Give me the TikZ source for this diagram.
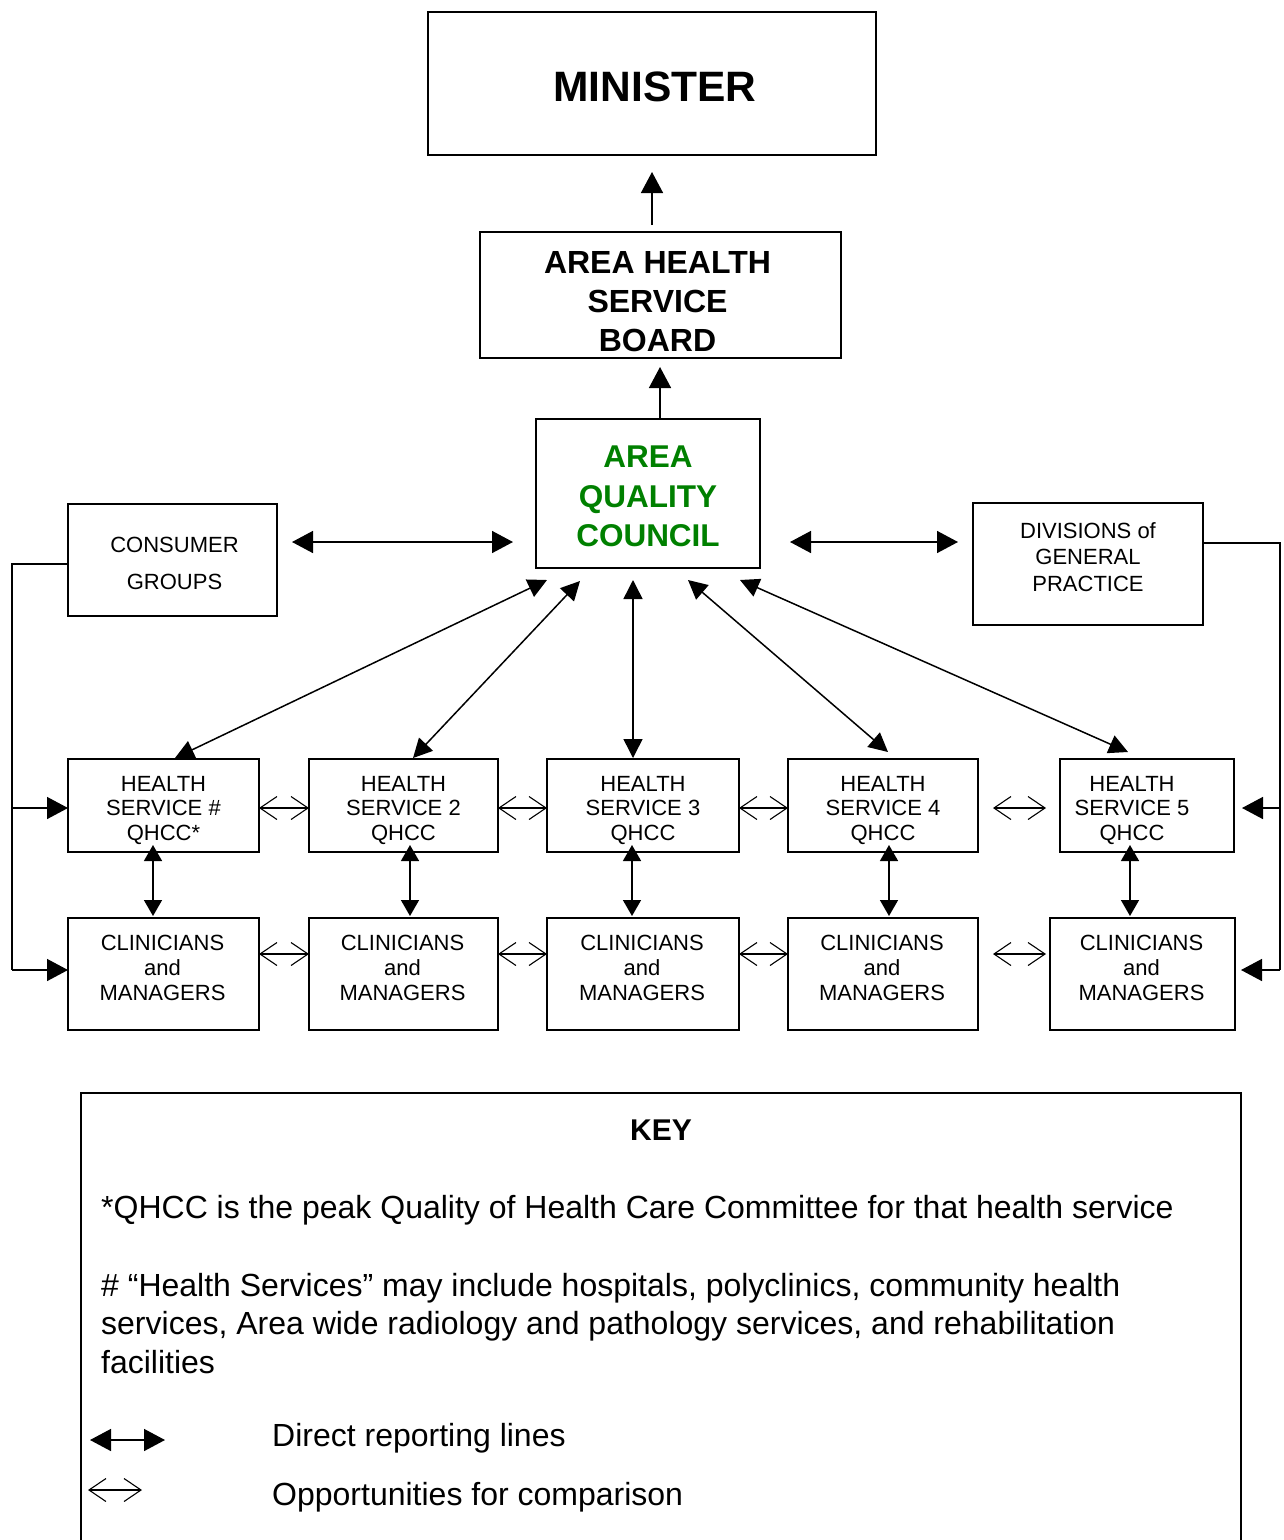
\documentclass[tikz,border=0pt]{standalone}
\usepackage{fontspec}
\setmainfont{Liberation Sans}
\usetikzlibrary{arrows.meta}
\definecolor{aqcgreen}{RGB}{0,128,0}
\begin{document}
\begin{tikzpicture}[x=1pt,y=-1pt,
  bigtri/.tip={Triangle[length=21pt,width=22pt]},
  midtri/.tip={Triangle[length=19pt,width=19pt]},
  smalltri/.tip={Triangle[length=16pt,width=18pt]},
  barb/.tip={Straight Barb[length=17pt,width=23pt]},
  box/.style={draw, line width=1.6pt, inner sep=0pt, outer sep=0pt},
  lbl/.style={inner sep=0pt, align=center},
  hsfont/.style={lbl, font=\fontsize{22pt}{24.5pt}\selectfont},
  cmfont/.style={lbl, font=\fontsize{22pt}{25pt}\selectfont},
  wire/.style={line width=1.5pt},
  dbig/.style={line width=1.5pt, bigtri-bigtri},
  dmid/.style={line width=1.5pt, midtri-midtri},
  dsmall/.style={line width=1.5pt, smalltri-smalltri},
  tobig/.style={line width=1.5pt, -bigtri},
  cmp/.style={line width=1.1pt, barb-barb},
  keytext/.style={anchor=base west, inner sep=0pt, font=\fontsize{32pt}{38pt}\selectfont}
]
\path[use as bounding box] (0,0) rectangle (1284,1540);

% top boxes
\node[box, minimum width=448pt, minimum height=143pt] (min) at (652,83.5) {};
\node[lbl, font=\fontsize{42.5pt}{45pt}\selectfont\bfseries] (mint) at ([xshift=3pt,yshift=-3pt]min.center) {MINISTER};
\node[box, minimum width=361pt, minimum height=126pt] (ahsb) at (660.5,295) {};
\node[lbl, font=\fontsize{32pt}{39pt}\selectfont\bfseries] (ahsbt) at ([xshift=-3pt,yshift=-7pt]ahsb.center) {AREA HEALTH\\SERVICE\\BOARD};
\node[box, minimum width=224pt, minimum height=149pt] (aqc) at (648,493.5) {};
\node[lbl, text=aqcgreen, font=\fontsize{31.5pt}{39.5pt}\selectfont\bfseries] (aqct) at ([yshift=-3pt]aqc.center) {AREA\\QUALITY\\COUNCIL};
\node[box, minimum width=209pt, minimum height=112pt] (cons) at (172.5,560) {};
\node[lbl, font=\fontsize{22pt}{37pt}\selectfont] (const) at ([xshift=2pt,yshift=-3pt]cons.center) {CONSUMER\\GROUPS};
\node[box, minimum width=230pt, minimum height=122pt] (div) at (1088,564) {};
\node[lbl, font=\fontsize{22pt}{26.5pt}\selectfont] (divt) at ([yshift=7pt]div.center) {DIVISIONS of\\GENERAL\\PRACTICE};

% health services
\node[box, minimum width=191pt, minimum height=93pt] (hs1) at (163.5,805.5) {};
\node[box, minimum width=189pt, minimum height=93pt] (hs2) at (403.5,805.5) {};
\node[box, minimum width=192pt, minimum height=93pt] (hs3) at (643,805.5) {};
\node[box, minimum width=190pt, minimum height=93pt] (hs4) at (883,805.5) {};
\node[box, minimum width=174pt, minimum height=93pt] (hs5) at (1147,805.5) {};
\node[hsfont] (hs1t) at ([yshift=-4.5pt]hs1.center) {HEALTH\\SERVICE \#\\QHCC*};
\node[hsfont] (hs2t) at ([yshift=-4.5pt]hs2.center) {HEALTH\\SERVICE 2\\QHCC};
\node[hsfont] (hs3t) at ([yshift=-4.5pt]hs3.center) {HEALTH\\SERVICE 3\\QHCC};
\node[hsfont] (hs4t) at ([yshift=-4.5pt]hs4.center) {HEALTH\\SERVICE 4\\QHCC};
\node[hsfont] (hs5t) at ([xshift=-15pt,yshift=-4.5pt]hs5.center) {HEALTH\\SERVICE 5\\QHCC};

% clinicians
\node[box, minimum width=191pt, minimum height=112pt] (cm1) at (163.5,974) {};
\node[box, minimum width=189pt, minimum height=112pt] (cm2) at (403.5,974) {};
\node[box, minimum width=192pt, minimum height=112pt] (cm3) at (643,974) {};
\node[box, minimum width=190pt, minimum height=112pt] (cm4) at (883,974) {};
\node[box, minimum width=185pt, minimum height=112pt] (cm5) at (1142.5,974) {};
\node[cmfont] (cm1t) at ([xshift=-1pt,yshift=6.5pt]cm1.center) {CLINICIANS\\and\\MANAGERS};
\node[cmfont] (cm2t) at ([xshift=-1pt,yshift=6.5pt]cm2.center) {CLINICIANS\\and\\MANAGERS};
\node[cmfont] (cm3t) at ([xshift=-1pt,yshift=6.5pt]cm3.center) {CLINICIANS\\and\\MANAGERS};
\node[cmfont] (cm4t) at ([xshift=-1pt,yshift=6.5pt]cm4.center) {CLINICIANS\\and\\MANAGERS};
\node[cmfont] (cm5t) at ([xshift=-1pt,yshift=6.5pt]cm5.center) {CLINICIANS\\and\\MANAGERS};

% upward reporting
\draw[tobig] ([xshift=-8.5pt,yshift=7pt]ahsb.north) -- ([yshift=-17pt]min.south);
\draw[tobig] ([xshift=12pt]aqc.north) -- ([xshift=-0.5pt,yshift=-9pt]ahsb.south);

% side links
\draw[dbig] ([xshift=15pt,yshift=18pt]cons.east) -- ([xshift=-23pt,yshift=-48.5pt]aqc.west);
\draw[dbig] ([xshift=30pt,yshift=-48.5pt]aqc.east) -- ([xshift=-15pt,yshift=22pt]div.west);

% fan to health services
\draw[dmid] ([xshift=-101pt,yshift=-12pt]aqc.south) -- ([xshift=11.5pt,yshift=1pt]hs1.north);
\draw[dmid] ([xshift=-68pt,yshift=-13pt]aqc.south) -- ([xshift=9.5pt,yshift=1pt]hs2.north);
\draw[dmid] ([xshift=-15pt,yshift=-12pt]aqc.south) -- ([xshift=-10pt,yshift=1pt]hs3.north);
\draw[dmid] ([xshift=40pt,yshift=-12pt]aqc.south) -- ([xshift=5pt,yshift=7pt]hs4.north);
\draw[dmid] ([xshift=92pt,yshift=-12pt]aqc.south) -- ([xshift=-19pt,yshift=7pt]hs5.north);

% health service <-> clinicians
\draw[dsmall] ([xshift=-10.5pt,yshift=7pt]hs1.south) -- ([xshift=-10.5pt,yshift=2pt]cm1.north);
\draw[dsmall] ([xshift=6.5pt,yshift=7pt]hs2.south) -- ([xshift=6.5pt,yshift=2pt]cm2.north);
\draw[dsmall] ([xshift=-11pt,yshift=7pt]hs3.south) -- ([xshift=-11pt,yshift=2pt]cm3.north);
\draw[dsmall] ([xshift=6pt,yshift=7pt]hs4.south) -- ([xshift=6pt,yshift=2pt]cm4.north);
\draw[dsmall] ([xshift=-17pt,yshift=7pt]hs5.south) -- ([xshift=-12.5pt,yshift=2pt]cm5.north);

% comparison arrows
\draw[cmp] ([yshift=-2.5pt]hs1.east) -- ([yshift=-2.5pt]hs2.west);
\draw[cmp] ([yshift=-2.5pt]hs2.east) -- ([yshift=-2.5pt]hs3.west);
\draw[cmp] ([yshift=-2.5pt]hs3.east) -- ([yshift=-2.5pt]hs4.west);
\draw[cmp, shorten <=15pt, shorten >=14pt] ([yshift=-2.5pt]hs4.east) -- ([yshift=-2.5pt]hs5.west);
\draw[cmp] ([yshift=20pt]cm1.east) -- ([yshift=20pt]cm2.west);
\draw[cmp] ([yshift=20pt]cm2.east) -- ([yshift=20pt]cm3.west);
\draw[cmp] ([yshift=20pt]cm3.east) -- ([yshift=20pt]cm4.west);
\draw[cmp, shorten <=15pt, shorten >=4pt] ([yshift=20pt]cm4.east) -- ([yshift=20pt]cm5.west);

% left bracket
\coordinate (lt) at (12,808);
\coordinate (lb) at (12,970);
\draw[wire] ([yshift=-4pt]cons.west) -| (lb);
\draw[tobig] (lt) -- (lt -| hs1.west);
\draw[tobig] (lb) -- (lb -| cm1.west);

% right bracket
\coordinate (rt) at (1280,808);
\coordinate (rb) at (1280,970);
\draw[wire] ([yshift=21pt]div.east) -| (rb);
\draw[tobig, shorten >=8pt] (rt) -- (rt -| hs5.east);
\draw[tobig, shorten >=6pt] (rb) -- (rb -| cm5.east);

% key
\node[draw, line width=1.6pt, minimum width=1160pt, minimum height=470pt, inner sep=0pt, outer sep=0pt] (key) at (661,1328) {};
\node[anchor=base, inner sep=0pt, font=\fontsize{30pt}{32pt}\selectfont\bfseries] (keyt) at (661,1140) {KEY};
\node[keytext] (k1) at (101,1218) {*QHCC is the peak Quality of Health Care Committee for that health service};
\node[keytext] (k2) at (101,1296) {\# “Health Services” may include hospitals, polyclinics, community health};
\node[keytext] (k3) at (101,1334.5) {services, Area wide radiology and pathology services, and rehabilitation};
\node[keytext] (k4) at (101,1373) {facilities};
\coordinate (da1) at (90,1440);
\coordinate (da2) at (165,1440);
\draw[dbig] (da1) -- (da2);
\coordinate (ca1) at (88,1490);
\coordinate (ca2) at (142,1490);
\draw[cmp] (ca1) -- (ca2);
\node[keytext] (kd) at (272,1446) {Direct reporting lines};
\node[keytext] (kc) at (272,1505) {Opportunities for comparison};
\end{tikzpicture}
\end{document}
